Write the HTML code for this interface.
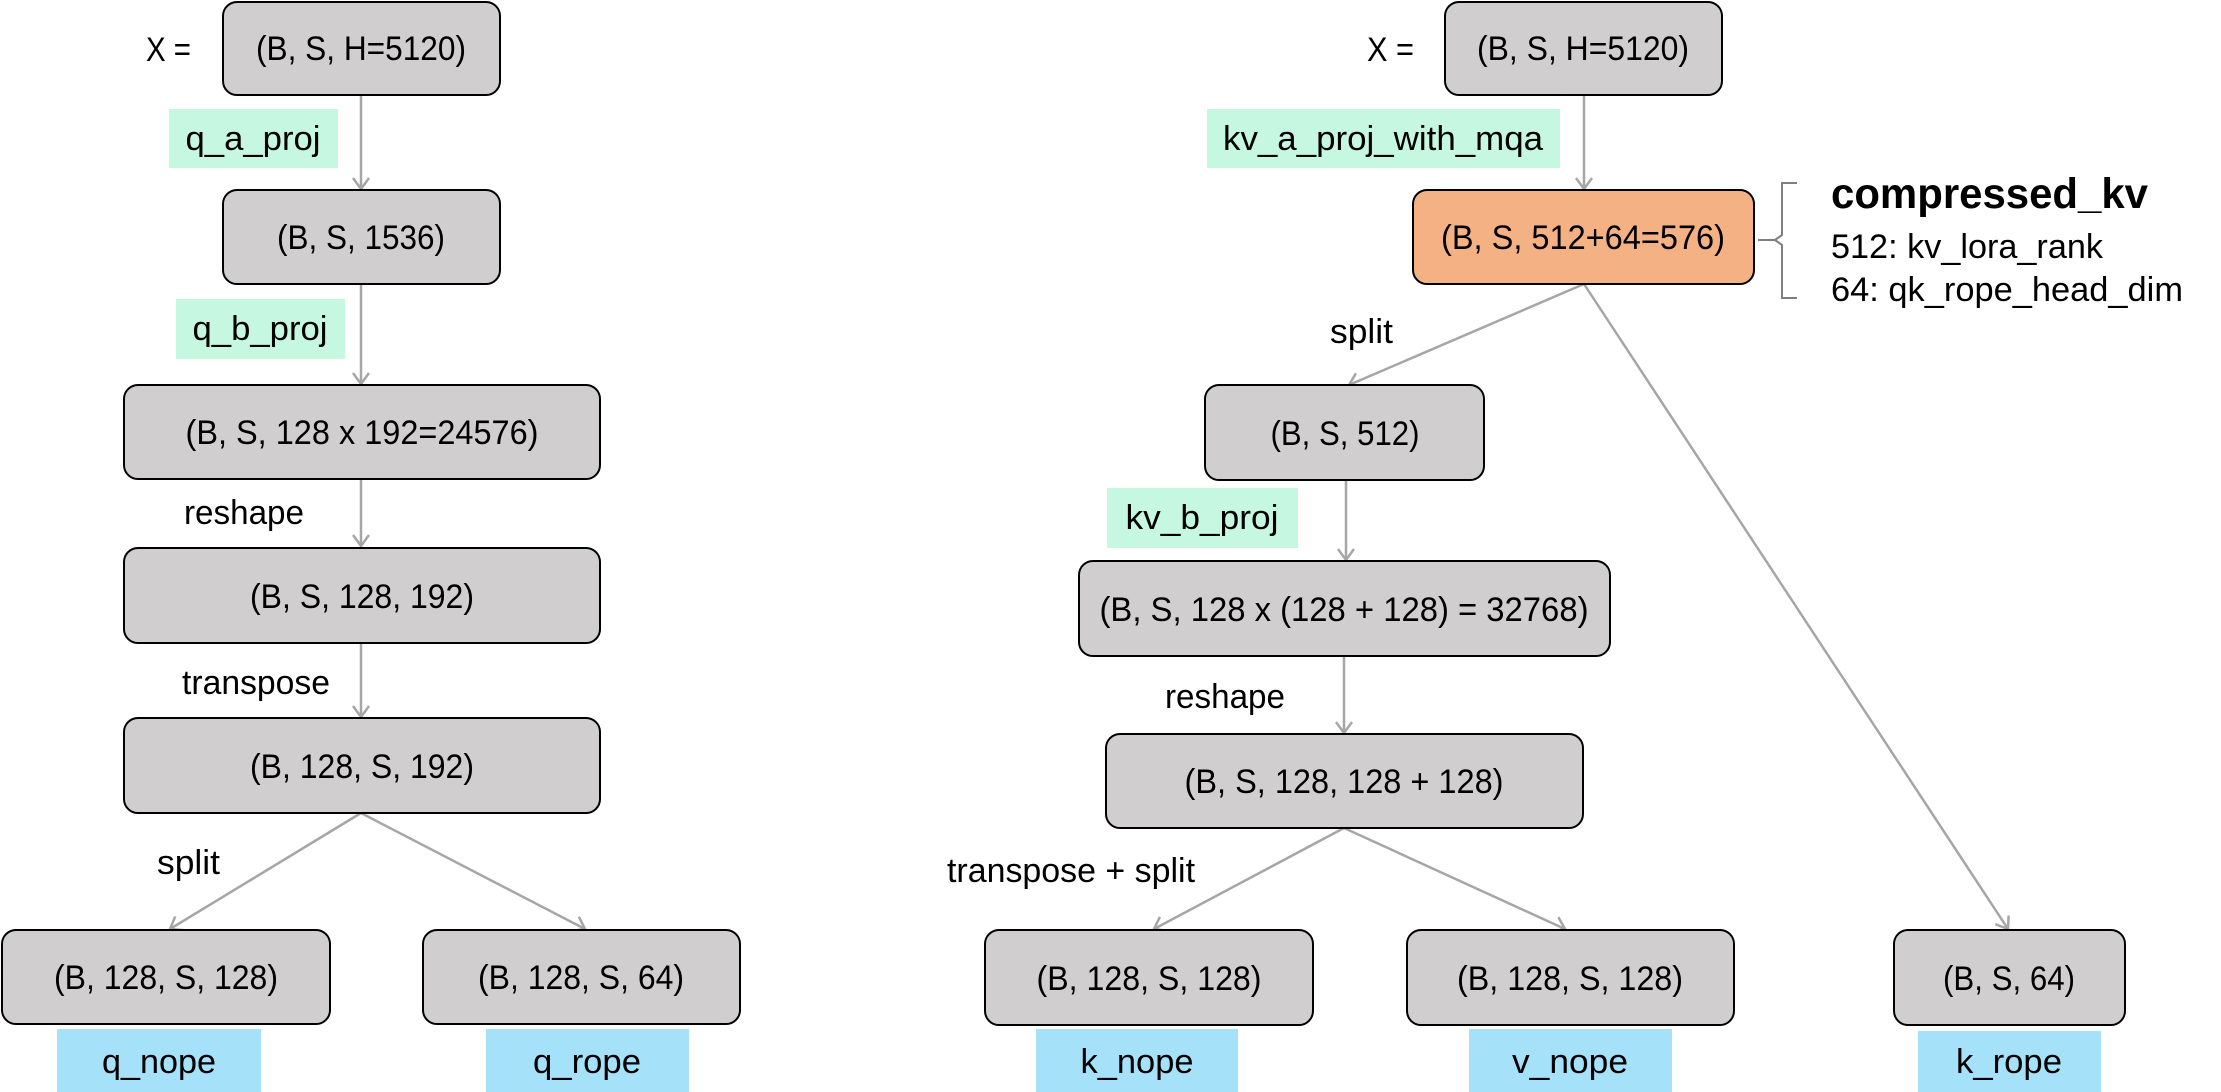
<!DOCTYPE html>
<html><head><meta charset="utf-8"><style>
html,body{margin:0;padding:0;background:#fff;}
svg{display:block;}
text{font-family:"Liberation Sans",sans-serif;fill:#000;}
</style></head><body>
<svg width="2221" height="1092" viewBox="0 0 2221 1092" xmlns="http://www.w3.org/2000/svg">
<defs>
<marker id="a" markerWidth="24" markerHeight="24" refX="12" refY="12" orient="auto" markerUnits="userSpaceOnUse">
<path d="M1,4 L12,12 L1,20" fill="none" stroke="#a6a6a6" stroke-width="2.5"/>
</marker>
</defs>
<g stroke="#a6a6a6" stroke-width="2.5" fill="none" marker-end="url(#a)">
<line x1="361" y1="95" x2="361" y2="189"/>
<line x1="361" y1="284" x2="361" y2="384"/>
<line x1="361" y1="479" x2="361" y2="546"/>
<line x1="361" y1="643" x2="361" y2="717"/>
<line x1="361" y1="813" x2="170" y2="929"/>
<line x1="361" y1="813" x2="585" y2="929"/>
<line x1="1584" y1="95" x2="1584" y2="189"/>
<line x1="1584" y1="284" x2="1349" y2="385"/>
<line x1="1584" y1="284" x2="2008" y2="929"/>
<line x1="1346" y1="480" x2="1346" y2="560"/>
<line x1="1344" y1="656" x2="1344" y2="733"/>
<line x1="1344" y1="828" x2="1154" y2="929"/>
<line x1="1344" y1="828" x2="1565" y2="929"/>
</g>
<g stroke="#000" stroke-width="2" fill="#d0cece">
<rect x="223" y="2" width="277" height="93" rx="14"/>
<rect x="223" y="190" width="277" height="94" rx="14"/>
<rect x="124" y="385" width="476" height="94" rx="14"/>
<rect x="124" y="548" width="476" height="95" rx="14"/>
<rect x="124" y="718" width="476" height="95" rx="14"/>
<rect x="2" y="930" width="328" height="94" rx="14"/>
<rect x="423" y="930" width="317" height="94" rx="14"/>
<rect x="1445" y="2" width="277" height="93" rx="14"/>
<rect x="1413" y="190" width="341" height="94" rx="14" fill="#f4b183"/>
<rect x="1205" y="385" width="279" height="95" rx="14"/>
<rect x="1079" y="561" width="531" height="95" rx="14"/>
<rect x="1106" y="734" width="477" height="94" rx="14"/>
<rect x="985" y="930" width="328" height="95" rx="14"/>
<rect x="1407" y="930" width="327" height="95" rx="14"/>
<rect x="1894" y="930" width="231" height="95" rx="14"/>
</g>
<g fill="#c6f7e0">
<rect x="169" y="109" width="169" height="59"/>
<rect x="176" y="299" width="169" height="60"/>
<rect x="1207" y="109" width="353" height="59"/>
<rect x="1107" y="488" width="191" height="60"/>
</g>
<g fill="#a6e1fa">
<rect x="57" y="1029" width="204" height="63"/>
<rect x="486" y="1029" width="203" height="63"/>
<rect x="1036" y="1029" width="202" height="63"/>
<rect x="1469" y="1029" width="203" height="63"/>
<rect x="1918" y="1031" width="183" height="61"/>
</g>
<path d="M1797,183 L1782,183 L1782,235 L1775,240 L1758,240 M1775,240 L1782,245 L1782,298 L1797,298" fill="none" stroke="#7f7f7f" stroke-width="2"/>
<g font-size="34" text-anchor="middle">
<text x="361" y="60" textLength="210" lengthAdjust="spacingAndGlyphs">(B, S, H=5120)</text>
<text x="361" y="249" textLength="168" lengthAdjust="spacingAndGlyphs">(B, S, 1536)</text>
<text x="362" y="444" textLength="353" lengthAdjust="spacingAndGlyphs">(B, S, 128 x 192=24576)</text>
<text x="362" y="608" textLength="224" lengthAdjust="spacingAndGlyphs">(B, S, 128, 192)</text>
<text x="362" y="778" textLength="224" lengthAdjust="spacingAndGlyphs">(B, 128, S, 192)</text>
<text x="166" y="989" textLength="224" lengthAdjust="spacingAndGlyphs">(B, 128, S, 128)</text>
<text x="581" y="989" textLength="206" lengthAdjust="spacingAndGlyphs">(B, 128, S, 64)</text>
<text x="1583" y="60" textLength="212" lengthAdjust="spacingAndGlyphs">(B, S, H=5120)</text>
<text x="1583" y="249" textLength="284" lengthAdjust="spacingAndGlyphs">(B, S, 512+64=576)</text>
<text x="1345" y="445" textLength="149" lengthAdjust="spacingAndGlyphs">(B, S, 512)</text>
<text x="1344" y="621" textLength="489" lengthAdjust="spacingAndGlyphs">(B, S, 128 x (128 + 128) = 32768)</text>
<text x="1344" y="793" textLength="319" lengthAdjust="spacingAndGlyphs">(B, S, 128, 128 + 128)</text>
<text x="1149" y="990" textLength="225" lengthAdjust="spacingAndGlyphs">(B, 128, S, 128)</text>
<text x="1570" y="990" textLength="226" lengthAdjust="spacingAndGlyphs">(B, 128, S, 128)</text>
<text x="2009" y="990" textLength="132" lengthAdjust="spacingAndGlyphs">(B, S, 64)</text>
<text x="253" y="150" textLength="135" lengthAdjust="spacingAndGlyphs">q_a_proj</text>
<text x="260" y="340" textLength="135" lengthAdjust="spacingAndGlyphs">q_b_proj</text>
<text x="1383" y="150" textLength="320" lengthAdjust="spacingAndGlyphs">kv_a_proj_with_mqa</text>
<text x="1202" y="529" textLength="153" lengthAdjust="spacingAndGlyphs">kv_b_proj</text>
<text x="159" y="1073" textLength="114" lengthAdjust="spacingAndGlyphs">q_nope</text>
<text x="587" y="1073" textLength="108" lengthAdjust="spacingAndGlyphs">q_rope</text>
<text x="1137" y="1073" textLength="113" lengthAdjust="spacingAndGlyphs">k_nope</text>
<text x="1570" y="1073" textLength="116" lengthAdjust="spacingAndGlyphs">v_nope</text>
<text x="2009" y="1073" textLength="106" lengthAdjust="spacingAndGlyphs">k_rope</text>
</g>
<g font-size="34" text-anchor="start">
<text x="146" y="61" textLength="45" lengthAdjust="spacingAndGlyphs">X =</text>
<text x="1367" y="61" textLength="47" lengthAdjust="spacingAndGlyphs">X =</text>
<text x="184" y="524" textLength="120" lengthAdjust="spacingAndGlyphs">reshape</text>
<text x="182" y="694" textLength="148" lengthAdjust="spacingAndGlyphs">transpose</text>
<text x="157" y="874" textLength="63" lengthAdjust="spacingAndGlyphs">split</text>
<text x="1330" y="343" textLength="63" lengthAdjust="spacingAndGlyphs">split</text>
<text x="1165" y="708" textLength="120" lengthAdjust="spacingAndGlyphs">reshape</text>
<text x="947" y="882" textLength="248" lengthAdjust="spacingAndGlyphs">transpose + split</text>
<text x="1831" y="258" textLength="272" lengthAdjust="spacingAndGlyphs">512: kv_lora_rank</text>
<text x="1831" y="301" textLength="352" lengthAdjust="spacingAndGlyphs">64: qk_rope_head_dim</text>
<text x="1831" y="208" font-size="43" font-weight="bold" textLength="317" lengthAdjust="spacingAndGlyphs">compressed_kv</text>
</g>
</svg>
</body></html>
